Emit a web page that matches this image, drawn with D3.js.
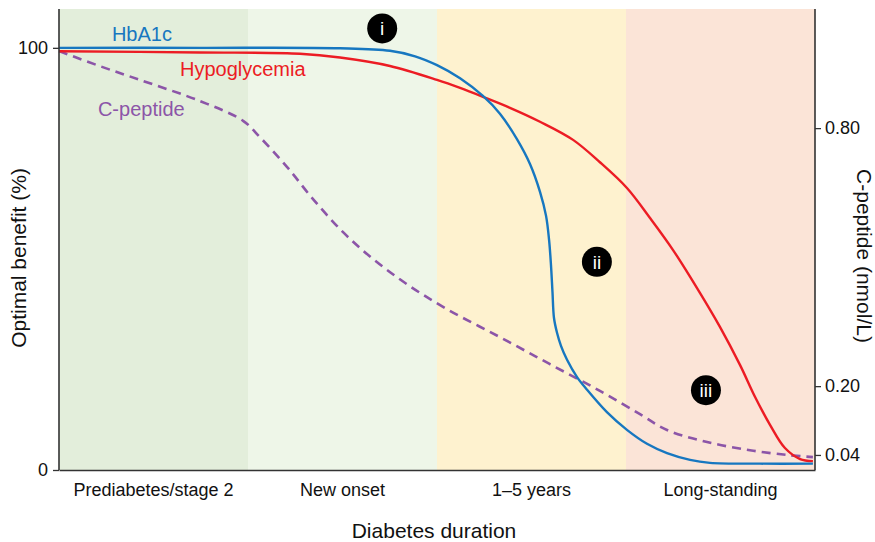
<!DOCTYPE html>
<html>
<head>
<meta charset="utf-8">
<script src="https://cdn.jsdelivr.net/npm/d3@7"></script>
<style>
  html, body { margin: 0; padding: 0; background: #fff; }
  svg { display: block; font-family: "Liberation Sans", Arial, Helvetica, sans-serif; }
</style>
</head>
<body>
<svg id="chart" width="875" height="542"></svg>
<script>
// ---- Data ----
const categories = ["Prediabetes/stage 2", "New onset", "1\u20135 years", "Long-standing"];
const bandColors = ["#e3eedb", "#eef6e8", "#fef2cf", "#fbe4d7"];

// x in "duration band" units (0..4), y in % optimal benefit
const hba1c = [
  [0, 100], [0.746, 100], [1.487, 99.9], [1.751, 99.3], [1.884, 98.0], [2.0, 95.9],
  [2.122, 92.8], [2.243, 88.6], [2.333, 84.4], [2.423, 78.4], [2.492, 72.5],
  [2.545, 65.9], [2.577, 60.2], [2.593, 54.5], [2.603, 48.6], [2.611, 42.2],
  [2.619, 36.0], [2.635, 32.5], [2.656, 29.4], [2.688, 26.1], [2.741, 22.0],
  [2.794, 19.0], [2.899, 13.7], [3.005, 9.5], [3.111, 6.2], [3.217, 4.0],
  [3.339, 2.4], [3.444, 1.7], [3.709, 1.5], [3.989, 1.5]
];
const hypoglycemia = [
  [0, 99.2], [0.746, 98.9], [1.275, 98.6], [1.487, 97.7], [1.751, 95.7], [2.0, 92.4],
  [2.122, 90.5], [2.243, 88.4], [2.386, 85.8], [2.545, 82.5], [2.720, 78.2],
  [2.862, 72.9], [3.005, 66.8], [3.127, 59.7], [3.249, 52.1], [3.392, 41.9],
  [3.497, 33.9], [3.603, 24.9], [3.683, 17.3], [3.762, 10.7], [3.841, 5.2],
  [3.921, 2.6], [3.989, 2.1]
];
// C-peptide in nmol/L (right axis)
const cpeptide = [
  [0, 0.979], [0.217, 0.944], [0.429, 0.912], [0.746, 0.863], [0.974, 0.817],
  [1.063, 0.779], [1.206, 0.710], [1.344, 0.635], [1.503, 0.558], [1.661, 0.496],
  [1.841, 0.437], [2.053, 0.379], [2.333, 0.314], [2.598, 0.251], [2.862, 0.189],
  [3.074, 0.135], [3.217, 0.098], [3.429, 0.070], [3.656, 0.051], [3.852, 0.040],
  [3.989, 0.035]
];
const leftTicks = [0, 100];
const rightTicks = [0.04, 0.20, 0.80];
const markers = [
  { label: "i", x: 1.71, y: 104.6 },
  { label: "ii", x: 2.846, y: 49.3 },
  { label: "iii", x: 3.423, y: 18.9 }
];
const seriesLabels = [
  { text: "HbA1c", x: 0.28, y: 101.7, color: "#1777c0" },
  { text: "Hypoglycemia", x: 0.64, y: 93.4, color: "#ec1c24" },
  { text: "C-peptide", x: 0.206, y: 83.9, color: "#8c55a8" }
];

// ---- Layout ----
const margin = { left: 59, top: 9, right: 60, bottom: 72 };
const W = 875, H = 542;
const iw = W - margin.left - margin.right; // 756
const ih = H - margin.top - margin.bottom; // 461

const svg = d3.select("#chart");
const g = svg.append("g").attr("transform", `translate(${margin.left},${margin.top})`);

const x = d3.scaleLinear().domain([0, 4]).range([0, iw]);
const yL = d3.scaleLinear().domain([0, 109.2]).range([ih, 0]);
const yR = d3.scaleLinear().domain([0.005, 1.077]).range([ih, 0]);

// bands
g.selectAll("rect.band").data(categories).enter().append("rect")
  .attr("class", "band")
  .attr("x", (d, i) => x(i))
  .attr("y", 0)
  .attr("width", (d, i) => x(i + 1) - x(i))
  .attr("height", ih)
  .attr("fill", (d, i) => bandColors[i]);

// lines
const curve = d3.curveCatmullRom.alpha(0.5);
const lineL = d3.line().x(d => x(d[0])).y(d => yL(d[1])).curve(curve);
const lineR = d3.line().x(d => x(d[0])).y(d => yR(d[1])).curve(curve);

g.append("path").datum(cpeptide).attr("d", lineR)
  .attr("fill", "none").attr("stroke", "#8c55a8").attr("stroke-width", 2.6)
  .attr("stroke-dasharray", "9,6");
g.append("path").datum(hypoglycemia).attr("d", lineL)
  .attr("fill", "none").attr("stroke", "#ec1c24").attr("stroke-width", 2.4);
g.append("path").datum(hba1c).attr("d", lineL)
  .attr("fill", "none").attr("stroke", "#1777c0").attr("stroke-width", 2.4);

// series labels
g.selectAll("text.slabel").data(seriesLabels).enter().append("text")
  .attr("x", d => x(d.x)).attr("y", d => yL(d.y))
  .attr("fill", d => d.color)
  .attr("font-size", 20)
  .text(d => d.text);

// markers
const mk = g.selectAll("g.mk").data(markers).enter().append("g")
  .attr("transform", d => `translate(${x(d.x)},${yL(d.y)})`);
mk.append("circle").attr("r", 15).attr("fill", "#000");
mk.append("text").attr("text-anchor", "middle").attr("dy", "0.36em")
  .attr("fill", "#fff").attr("font-size", 19).text(d => d.label);

// axes
const axisColor = "#333";
const axL = g.append("g").call(d3.axisLeft(yL).tickValues(leftTicks).tickSize(6).tickPadding(5).tickFormat(d3.format("d")));
const axR = g.append("g").attr("transform", `translate(${iw},0)`)
  .call(d3.axisRight(yR).tickValues(rightTicks).tickSize(6).tickPadding(4).tickFormat(d3.format(".2f")));
const axB = g.append("g").attr("transform", `translate(0,${ih})`)
  .call(d3.axisBottom(x).tickValues([]).tickSize(0));

[axL, axR, axB].forEach(a => {
  a.select(".domain").attr("stroke", axisColor).attr("stroke-width", 1.6);
  a.selectAll(".tick line").attr("stroke", axisColor).attr("stroke-width", 1.3);
  a.selectAll(".tick text").attr("fill", "#111").attr("font-size", 18)
    .attr("font-family", "'Liberation Sans', Arial, sans-serif");
});
axL.select(".domain").attr("d", `M0,${ih}V0`);
axR.select(".domain").attr("d", `M0,${ih}V0`);

// category labels
g.selectAll("text.cat").data(categories).enter().append("text")
  .attr("x", (d, i) => x(i + 0.5))
  .attr("y", ih + 26)
  .attr("text-anchor", "middle")
  .attr("font-size", 18).attr("fill", "#111")
  .text(d => d);

// axis titles
svg.append("text").attr("x", margin.left + iw / 2 - 3).attr("y", 538)
  .attr("text-anchor", "middle").attr("font-size", 21).attr("fill", "#111")
  .text("Diabetes duration");
svg.append("text").attr("transform", `translate(26,258) rotate(-90)`)
  .attr("text-anchor", "middle").attr("font-size", 21).attr("fill", "#111")
  .text("Optimal benefit (%)");
svg.append("text").attr("transform", `translate(857,256) rotate(90)`)
  .attr("text-anchor", "middle").attr("font-size", 21).attr("fill", "#111")
  .text("C-peptide (nmol/L)");
</script>
</body>
</html>
